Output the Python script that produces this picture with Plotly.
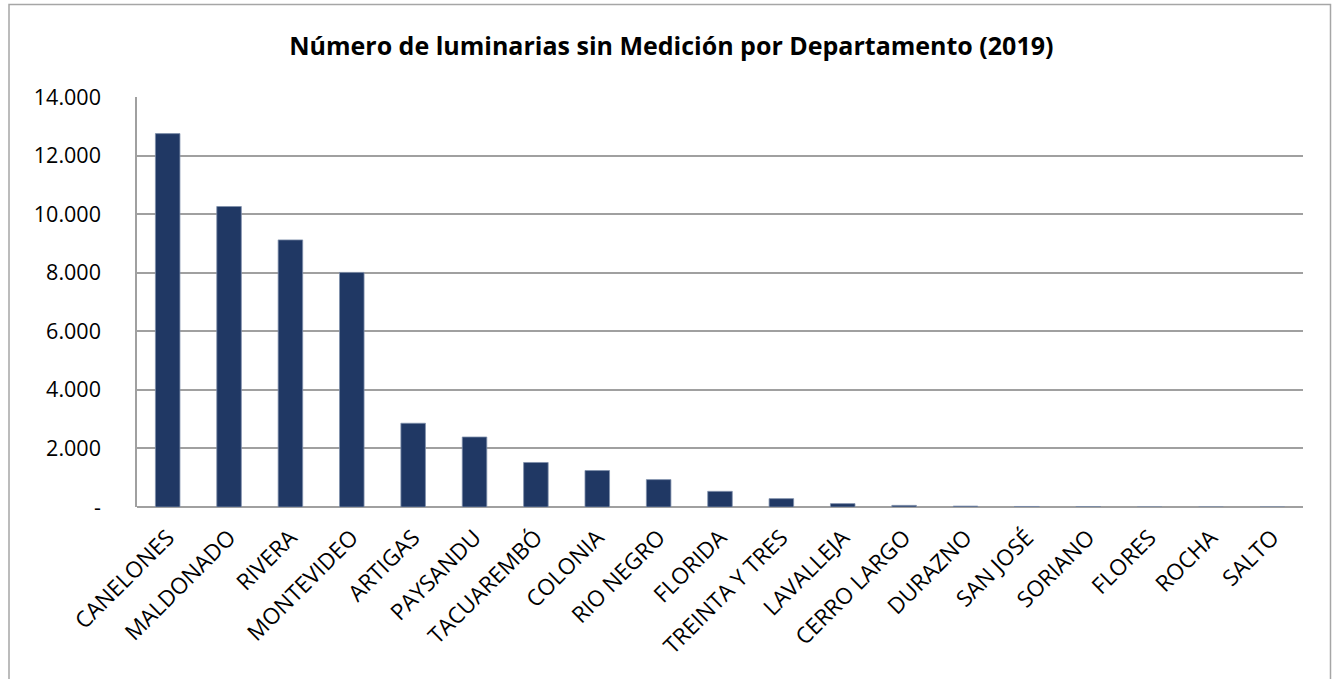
import plotly.graph_objects as go

departamentos = ["CANELONES", "MALDONADO", "RIVERA", "MONTEVIDEO", "ARTIGAS", "PAYSANDU",
                 "TACUAREMBÓ", "COLONIA", "RIO NEGRO", "FLORIDA", "TREINTA Y TRES", "LAVALLEJA",
                 "CERRO LARGO", "DURAZNO", "SAN JOSÉ", "SORIANO", "FLORES", "ROCHA", "SALTO"]
luminarias = [12750, 10260, 9120, 8010, 2860, 2390, 1520, 1245, 935, 535, 285, 115,
              55, 30, 18, 10, 0, 0, 0]
y_tickvals = [0, 2000, 4000, 6000, 8000, 10000, 12000, 14000]
y_ticktext = ["-", "2.000", "4.000", "6.000", "8.000", "10.000", "12.000", "14.000"]

FONT = "Open Sans"

fig = go.Figure(go.Bar(
    x=departamentos, y=luminarias,
    marker=dict(color="#203864", line=dict(color="#7f8fab", width=0.8)),
))

fig.update_layout(
    width=1335, height=679,
    margin=dict(l=137, r=32, t=97, b=172),
    paper_bgcolor="white", plot_bgcolor="white",
    bargap=0.6,
    showlegend=False,
    font=dict(family=FONT, color="black"),
    title=dict(text="<b>Número de luminarias sin Medición por Departamento (2019)</b>",
               x=(282.7 + 1060) / 2 / 1335, xanchor="center", y=1 - 46 / 679, yanchor="middle",
               font=dict(family=FONT, size=25, color="black")),
    xaxis=dict(tickangle=-45, tickfont=dict(family=FONT, size=22.5, color="black"),
               showgrid=False, showline=False, ticks="", ticklabelstandoff=12),
    yaxis=dict(range=[0, 14000], tickvals=y_tickvals, ticktext=y_ticktext,
               tickfont=dict(family=FONT, size=21.5, color="black"),
               showgrid=True, gridcolor="#a0a0a0", gridwidth=1.5,
               zeroline=True, zerolinecolor="#a0a0a0", zerolinewidth=2,
               showline=True, linecolor="#a0a0a0", linewidth=1.5,
               ticks="", ticklabelstandoff=30),
)

# outer chart border
fig.add_shape(type="rect", xref="paper", yref="paper",
              x0=(9 - 137) / 1166, x1=(1330.5 - 137) / 1166,
              y0=-0.5, y1=(506.7 - 5) / 409.4,
              line=dict(color="#a6a6a6", width=1.5), fillcolor="rgba(0,0,0,0)", layer="below")

fig.write_html("out.html", config={"displayModeBar": False},
               post_script="document.body.style.margin='0';document.body.style.overflow='hidden';")
